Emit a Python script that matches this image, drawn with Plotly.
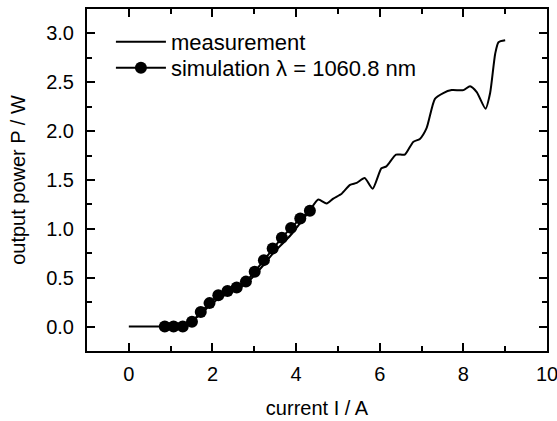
import plotly.graph_objects as go

# measurement curve
meas_x = [0, 0.5, 0.9, 1.2, 1.45, 1.7, 1.95, 2.2, 2.45, 2.7, 2.95, 3.2, 3.45, 3.7, 3.9,
          4.1, 4.33, 4.53, 4.73, 4.89, 5.09, 5.29, 5.45, 5.64, 5.83, 6.04, 6.16, 6.39,
          6.6, 6.8, 6.96, 7.12, 7.32, 7.52, 7.72, 8.0, 8.16, 8.32, 8.53, 8.64, 8.76,
          8.84, 9.0]
meas_y = [0, 0, 0, 0.01, 0.04, 0.12, 0.22, 0.3, 0.35, 0.41, 0.5, 0.62, 0.75, 0.86, 0.95,
          1.06, 1.19, 1.30, 1.26, 1.31, 1.36, 1.45, 1.47, 1.52, 1.41, 1.62, 1.64, 1.76,
          1.76, 1.89, 1.92, 2.03, 2.33, 2.39, 2.42, 2.42, 2.46, 2.40, 2.23, 2.39, 2.79,
          2.91, 2.93]

# simulation
sim_x = [0.86, 1.07, 1.29, 1.51, 1.72, 1.93, 2.14, 2.36, 2.58, 2.8, 3.01, 3.23, 3.44,
         3.66, 3.88, 4.1, 4.33]
sim_y = [0, 0, 0, 0.05, 0.15, 0.24, 0.32, 0.365, 0.40, 0.46, 0.56, 0.68, 0.80, 0.91,
         1.01, 1.105, 1.185]

font_family = "Liberation Sans, Arial, Helvetica, sans-serif"

fig = go.Figure()
fig.add_trace(go.Scatter(
    x=meas_x, y=meas_y, mode="lines", name="measurement", legend="legend",
    line=dict(color="black", width=2, shape="spline", smoothing=0.6),
))
fig.add_trace(go.Scatter(
    x=sim_x, y=sim_y, mode="lines+markers", name="simulation \u03bb = 1060.8 nm",
    legend="legend2",
    line=dict(color="black", width=2),
    marker=dict(color="black", size=12, symbol="circle"),
))

axis_common = dict(
    showline=True, linecolor="black", linewidth=2, mirror="allticks",
    ticks="inside", ticklen=8, tickwidth=2, tickcolor="black",
    showgrid=False, zeroline=False, automargin=False,
    ticklabeloverflow="allow",
    tickfont=dict(family=font_family, size=20, color="black"),
)

fig.update_xaxes(
    range=[-1, 10], tick0=0, dtick=2, ticklabelstandoff=4,
    minor=dict(ticks="inside", ticklen=5, tickwidth=2, tickcolor="black", dtick=1, tick0=0, showgrid=False),
    title=dict(text="current I / A", font=dict(family=font_family, size=20, color="black"), standoff=17),
    **axis_common,
)
fig.update_yaxes(
    range=[-0.25, 3.25], tick0=0, dtick=0.5, tickformat=".1f", ticklabelstandoff=7,
    minor=dict(ticks="inside", ticklen=5, tickwidth=2, tickcolor="black", dtick=0.25, tick0=0, showgrid=False),
    title=dict(text="output power P / W", font=dict(family=font_family, size=20, color="black"), standoff=15),
    **axis_common,
)

leg_common = dict(
    xanchor="left", yanchor="middle",
    bgcolor="rgba(0,0,0,0)", borderwidth=0,
    font=dict(family=font_family, size=22, color="black"),
    itemwidth=50,
)

fig.update_layout(
    width=557, height=421,
    margin=dict(l=87, r=10, t=9, b=70),
    plot_bgcolor="white", paper_bgcolor="white",
    font=dict(family=font_family, color="black"),
    showlegend=True,
    legend=dict(x=0.052, y=0.9035, **leg_common),
    legend2=dict(x=0.052, y=0.8275, **leg_common),
)

fig.write_html(
    "out.html",
    config={"displayModeBar": False},
    post_script="document.body.style.margin='0';document.body.style.overflow='hidden';",
)
